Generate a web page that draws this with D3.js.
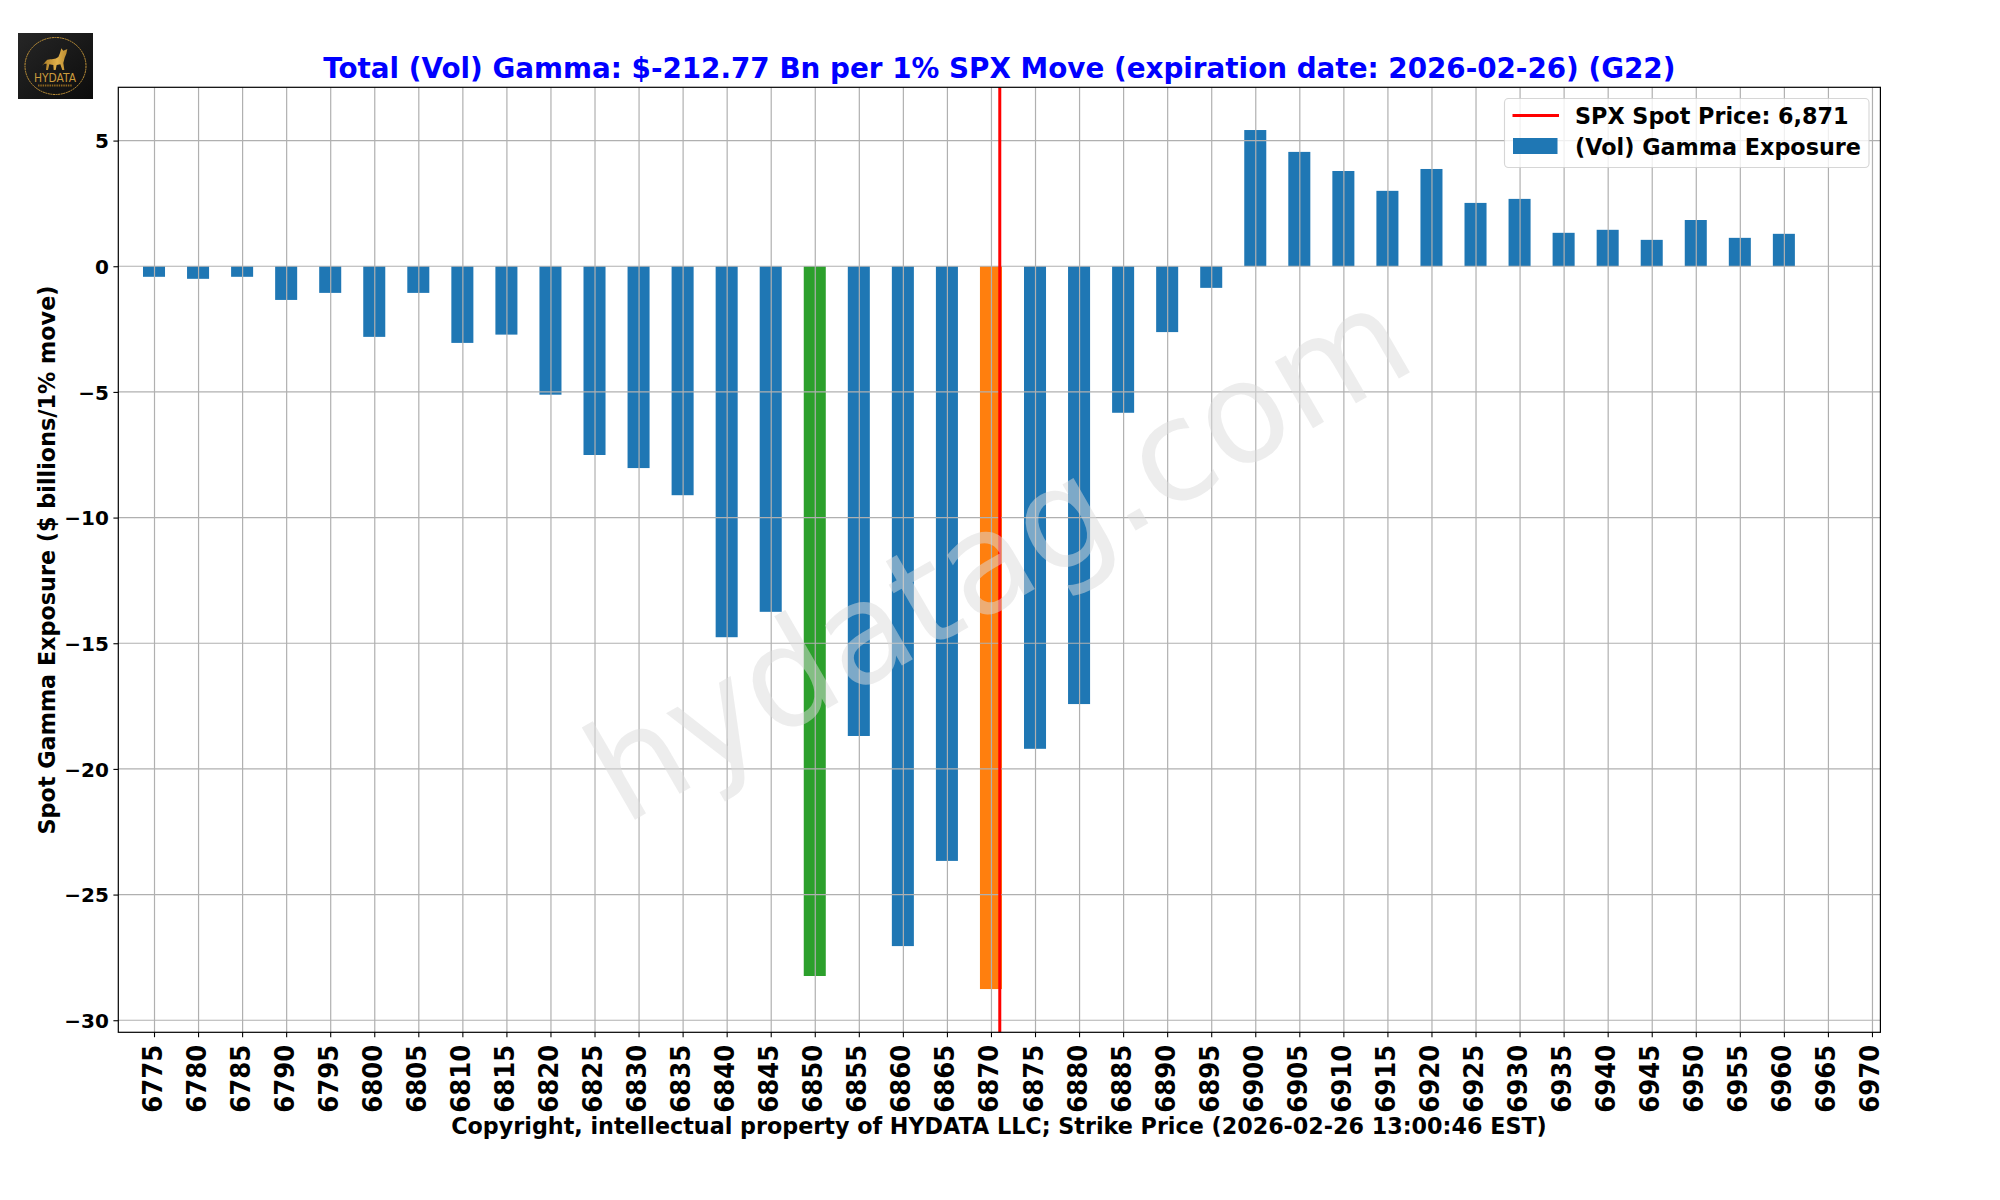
<!DOCTYPE html>
<html><head><meta charset="utf-8">
<script src="https://cdn.jsdelivr.net/npm/d3@7/dist/d3.min.js"></script>
<style>html,body{margin:0;padding:0;background:#fff}svg{display:block}text{font-family:"DejaVu Sans",sans-serif}</style>
</head><body><svg id="c" width="2000" height="1200" xmlns="http://www.w3.org/2000/svg"></svg>
<script>
const strikes=[6775,6780,6785,6790,6795,6800,6805,6810,6815,6820,6825,6830,6835,6840,6845,6850,6855,6860,6865,6870,6875,6880,6885,6890,6895,6900,6905,6910,6915,6920,6925,6930,6935,6940,6945,6950,6955,6960,6965,6970];
const gamma=[-0.42,-0.50,-0.42,-1.34,-1.06,-2.81,-1.06,-3.05,-2.72,-5.11,-7.51,-8.03,-9.11,-14.76,-13.75,-28.24,-18.69,-27.05,-23.66,-28.76,-19.20,-17.42,-5.83,-2.62,-0.86,5.42,4.55,3.79,3.00,3.87,2.52,2.68,1.33,1.45,1.05,1.84,1.13,1.29,null,null];
const yTicks=[5,0,-5,-10,-15,-20,-25,-30];
const spot=6871;
const highlightStrikes=[6850,6870];
const titleText="Total (Vol) Gamma: $-212.77 Bn per 1% SPX Move (expiration date: 2026-02-26) (G22)";
const xLabelText="Copyright, intellectual property of HYDATA LLC; Strike Price (2026-02-26 13:00:46 EST)";
const yLabelText="Spot Gamma Exposure ($ billions/1% move)";
const legendLabels=["SPX Spot Price: 6,871","(Vol) Gamma Exposure"];
const watermark="hydatag.com";

const L=118.3,R=1880.4,T=87.3,B=1032.3;
const svg=d3.select("#c");
const x=d3.scaleLinear().domain([6770.89,6970.9]).range([L-.5,R-.5]);
const y=d3.scaleLinear().domain([7.12,-30.48]).range([T,B]);
const color=d3.scaleOrdinal().domain([false,6850,6870]).range(["#1f77b4","#2ca02c","#ff7f0e"]);
const barW=x(6775+2.5)-x(6775);

svg.append("g").selectAll("rect").data(strikes.map((s,i)=>({s,v:gamma[i]})).filter(d=>d.v!==null)).join("rect")
 .attr("x",d=>x(d.s)-barW/2).attr("width",barW)
 .attr("y",d=>Math.min(y(d.v),y(0))).attr("height",d=>Math.abs(y(d.v)-y(0)))
 .attr("fill",d=>color(highlightStrikes.includes(d.s)?d.s:false));

// grid
const grid=svg.append("g").attr("stroke","#b0b0b0").attr("stroke-width",1.2);
grid.selectAll("line.v").data(strikes).join("line").attr("class","v")
 .attr("x1",d=>x(d)+.5).attr("x2",d=>x(d)+.5).attr("y1",T).attr("y2",B);
grid.selectAll("line.h").data(yTicks).join("line").attr("class","h")
 .attr("y1",d=>y(d)).attr("y2",d=>y(d)).attr("x1",L).attr("x2",R);

// spot
svg.append("line").attr("x1",x(spot)).attr("x2",x(spot)).attr("y1",T).attr("y2",B).attr("stroke","#ff0000").attr("stroke-width",3);

// watermark
svg.append("text").attr("transform","translate(624,826) rotate(-30)").attr("font-size",140)
 .attr("fill","#dbdbdb").attr("fill-opacity",0.5).text(watermark);

// axes
const xAxis=d3.axisBottom(x).tickValues(strikes).tickFormat(d3.format("d")).tickSize(4.9).tickPadding(6);
const gx=svg.append("g").attr("transform",`translate(0,${B})`).call(xAxis);
gx.select(".domain").remove();
gx.selectAll("line").attr("stroke","#000").attr("stroke-width",1.1);
gx.selectAll("text").attr("font-size",26.5).attr("font-weight","bold").attr("fill","#000")
 .attr("text-anchor","end").attr("dy",null).attr("y",null).attr("x",0)
 .attr("textLength",68).attr("lengthAdjust","spacingAndGlyphs")
 .attr("transform","translate(7,12.5) rotate(-90)");

const yAxis=d3.axisLeft(y).tickValues(yTicks).tickFormat(d=>d<0?"\u2212"+(-d):d).tickSize(4.9).tickPadding(4.5);
const gy=svg.append("g").attr("transform",`translate(${L},0)`).call(yAxis);
gy.select(".domain").remove();
gy.selectAll("line").attr("stroke","#000").attr("stroke-width",1.1);
gy.selectAll("text").attr("font-size",20).attr("font-weight","bold").attr("fill","#000").attr("dy","0.36em");

// frame
svg.append("rect").attr("x",L).attr("y",T).attr("width",R-L).attr("height",B-T).attr("fill","none").attr("stroke","#000").attr("stroke-width",1.2);

// labels
svg.append("text").attr("x",999.3).attr("y",78.3).attr("text-anchor","middle").attr("font-size",27.8).attr("font-weight","bold").attr("fill","#0000ff").text(titleText);
svg.append("text").attr("x",999).attr("y",1133.5).attr("text-anchor","middle").attr("font-size",22.25).attr("font-weight","bold").attr("fill","#000").text(xLabelText);
svg.append("text").attr("transform","translate(55,560) rotate(-90)").attr("text-anchor","middle").attr("font-size",22.3).attr("font-weight","bold").attr("fill","#000").text(yLabelText);

// legend
const lg=svg.append("g");
lg.append("rect").attr("x",1504.5).attr("y",98.5).attr("width",364.5).attr("height",69).attr("rx",4).attr("fill","#fff").attr("fill-opacity",.8).attr("stroke","#cccccc").attr("stroke-opacity",.8).attr("stroke-width",1.1);
lg.append("line").attr("x1",1512.5).attr("x2",1559).attr("y1",115.5).attr("y2",115.5).attr("stroke","#ff0000").attr("stroke-width",2.8);
lg.append("rect").attr("x",1513).attr("y",138).attr("width",44.5).attr("height",16).attr("fill","#1f77b4");
lg.selectAll("text").data(legendLabels).join("text").attr("x",1575).attr("y",(d,i)=>124+i*31).attr("font-size",22.3).attr("font-weight","bold").attr("fill","#000").text(d=>d);

// logo
const defs=svg.append("defs");
const lgr=defs.append("linearGradient").attr("id","lbg").attr("x1",0).attr("y1",0).attr("x2",1).attr("y2",1);
lgr.append("stop").attr("offset",0).attr("stop-color","#262626");
lgr.append("stop").attr("offset",1).attr("stop-color","#0c0c0c");
const gold=defs.append("linearGradient").attr("id","gold").attr("x1",0).attr("y1",0).attr("x2",1).attr("y2",0);
gold.append("stop").attr("offset",0).attr("stop-color","#a97a25");
gold.append("stop").attr("offset",.6).attr("stop-color","#e0b04a");
gold.append("stop").attr("offset",1).attr("stop-color","#b98a30");
const logo=svg.append("g");
logo.append("rect").attr("x",18).attr("y",33).attr("width",75).attr("height",66).attr("fill","url(#lbg)");
logo.append("ellipse").attr("cx",55.5).attr("cy",66).attr("rx",30.5).attr("ry",28.5).attr("fill","none").attr("stroke","#c4953a").attr("stroke-width",1).attr("stroke-dasharray","2 .6");
logo.append("path").attr("transform","translate(10,25) scale(.3333)").attr("fill","url(#gold)")
 .attr("d","M96,122 L108,108 L112,104 C125,102 135,104 145,96 L150,84 L154,70 L160,77 L172,72 L169,86 L164,98 L160,114 L163,135 L157,135 L151,118 L140,120 L137,135 L131,135 L130,120 L118,118 L114,135 L108,135 L110,116 L103,116 Z");
logo.append("text").attr("x",55).attr("y",81.5).attr("text-anchor","middle").attr("font-size",12).attr("fill","#c99a3c").attr("textLength",42).attr("lengthAdjust","spacingAndGlyphs").text("HYDATA");
logo.append("line").attr("x1",38).attr("x2",72).attr("y1",85.5).attr("y2",85.5).attr("stroke","#8a6420").attr("stroke-width",2).attr("stroke-dasharray","1.5 .8");
</script></body></html>
